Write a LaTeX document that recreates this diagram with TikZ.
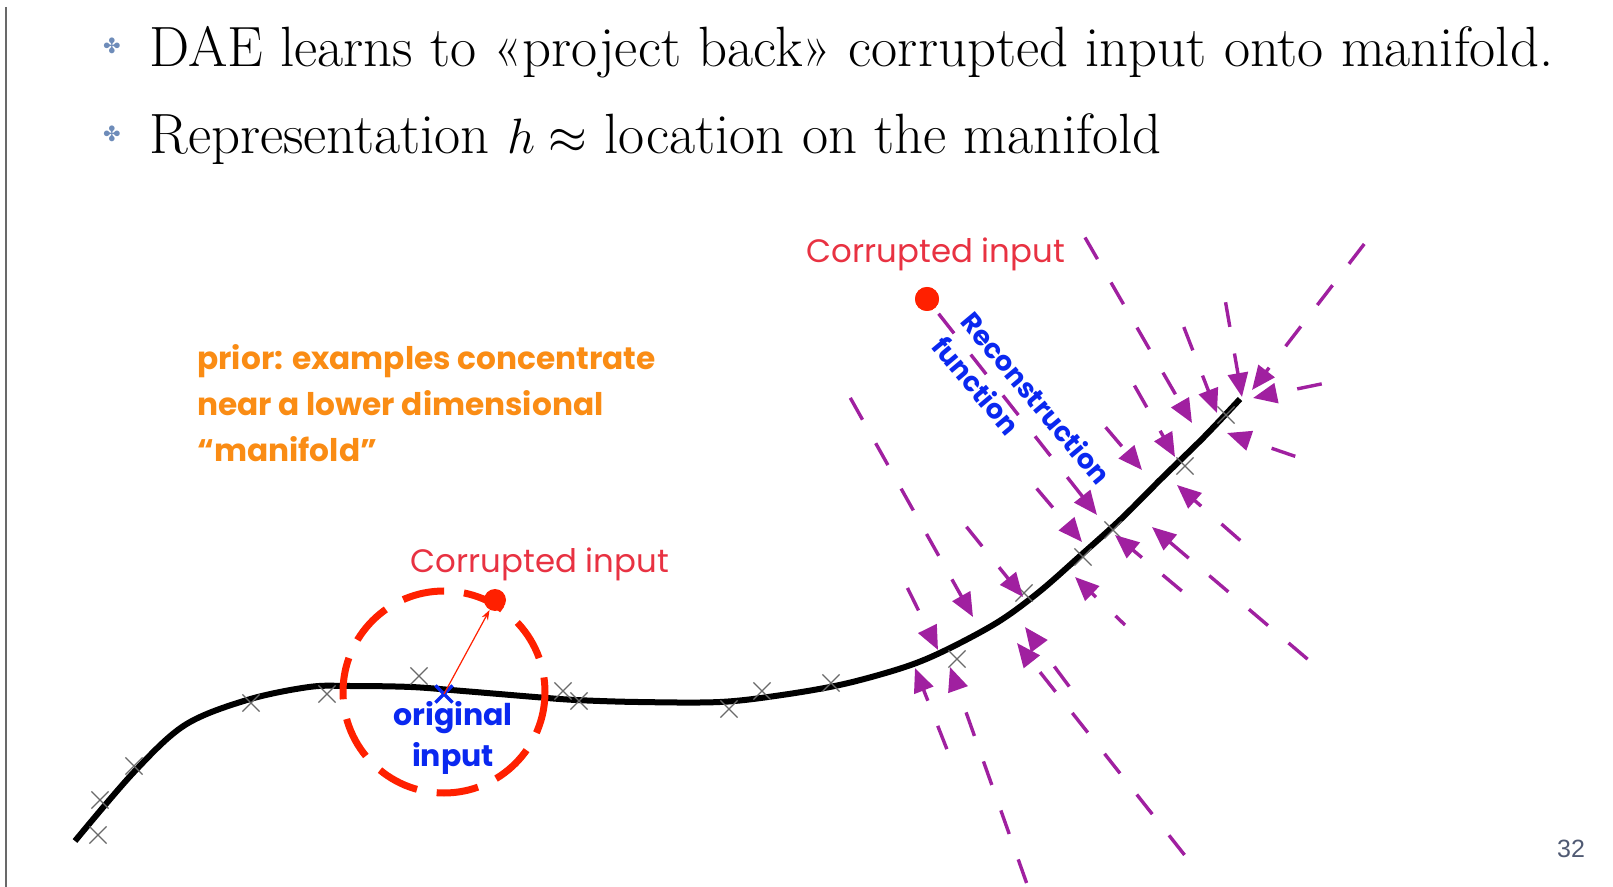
\documentclass[tikz,border=0pt]{standalone}
\usepackage{fontspec}
\usepackage{tikz}
\usetikzlibrary{arrows.meta,positioning,shapes.misc}
\newfontfamily\gothic{Poppins}
\newfontfamily\symfont{DejaVu Sans}
\newfontfamily\pagefont{Liberation Sans}
\definecolor{fieldpurple}{RGB}{160,32,160}
\definecolor{labelred}{RGB}{232,50,66}
\definecolor{dotred}{RGB}{255,32,0}
\definecolor{labelblue}{RGB}{10,40,240}
\definecolor{priororange}{RGB}{250,140,20}
\definecolor{crossgray}{RGB}{105,105,105}
\definecolor{bulletblue}{RGB}{110,140,185}
\definecolor{pagegray}{RGB}{80,90,115}

\begin{document}
\begin{tikzpicture}[x=0.5pt, y=-0.5pt,
  title/.style={anchor=base west, inner sep=0pt, font=\fontsize{28.4}{32}\selectfont},
  bul/.style={inner sep=0pt, text=bulletblue, font=\symfont\fontsize{10.5}{10.5}\selectfont},
  lbl/.style={inner sep=0pt, align=left},
  ex/.style={cross out, draw=crossgray, line width=0.6pt, minimum size=8pt, inner sep=0pt},
  dot/.style={circle, fill=dotred, inner sep=0pt, minimum size=#1},
  fld/.style={{Triangle[length=12pt, width=10pt]}-, draw=fieldpurple, line width=1.7pt, dash pattern=on 12.5pt off 13.5pt},
  manifold/.style={line width=3pt}]
  \useasboundingbox (0,0) rectangle (1613,887);
  \draw[crossgray, line width=1pt] (6,7) -- (6,887);
  \node[title] (t1) at (149,67) {DAE learns to «project back» corrupted input onto manifold.};
  \node[title] (t2) at (149,154) {Representation $h\approx$ location on the manifold};
  \node[bul] (b1) at (112,46) {✤};
  \node[bul] (b2) at (112,134) {✤};
  \node[lbl, anchor=west, text=priororange, font=\gothic\bfseries\fontsize{15.6}{23}\selectfont] (prior) at (197,403) {prior: examples concentrate\\near a lower dimensional\\“manifold”};
  \draw[manifold] plot[smooth, tension=0.55] coordinates {(75,841) (134,772) (185,725) (247,700) (309,687) (350,686) (411,687) (463,691) (535,697) (576,700) (638,702) (720,702) (782,695) (844,684) (905,667) (946,650) (998,622) (1039,592) (1080,556) (1121,519) (1162,478) (1204,437) (1240,399)};
  \foreach \n/\x/\y in {1/98/835, 2/100/800, 3/134/766, 4/251/703, 5/327/694, 6/419/676, 7/563/691, 8/579/701, 9/729/709, 10/762/691, 11/831/683, 12/957/659, 13/1024/593, 14/1083/557, 15/1113/530, 16/1185/466, 17/1226/415}
    \node[ex] (x\n) at (\x,\y) {};
  \draw[dotred, line width=3.5pt, dash pattern=on 21pt off 10pt] (444,692) circle[radius=101];
  \node[cross out, draw=labelblue, line width=1.6pt, minimum size=7pt, inner sep=0pt] (orig) at (444,694) {};
  \node[dot=11pt] (dotB) at (495,600) {};
  \draw[-{Stealth[length=5pt, width=3.5pt]}, dotred, line width=0.6pt] (orig.center) -- (dotB);
  \node[lbl, text=labelred, font=\gothic\fontsize{16.2}{18}\selectfont] (corrB) at (540,564) {Corrupted input};
  \node[lbl, align=center, text=labelblue, font=\gothic\bfseries\fontsize{15}{20.5}\selectfont] (origl) at (453,738) {original\\input};
  \node[lbl, text=labelred, font=\gothic\fontsize{16.2}{18}\selectfont] (corrA) at (936,254) {Corrupted input};
  \foreach \n/\sx/\sy/\tx/\ty/\ph in {1/847/392/973/617/2.5, 2/906/585/938/650/15.5, 3/965/525/1023/597/5, 4/1032/483/1082/542/15,
      6/1102/423/1142/470/22, 7/1133/383/1175/457/9, 8/1083/234/1192/423/21, 9/1183/325/1217/413/4, 10/1225/299/1242/397/2,
      11/1365/243/1252/390/10, 12/1326/383/1253/398/15, 13/1300/458/1227/433/14, 14/1242/542/1177/485/8, 15/1318/668/1152/527/0,
      16/1183/592/1115/535/6.5, 17/1125/625/1075/577/9.5, 18/1198/872/1017/643/19, 19/1074/693/1025/627/13, 20/948/752/915/668/6.5,
      21/1028/887/950/667/13.5} {
    \coordinate (s\n) at (\sx,\sy);
    \coordinate (t\n) at (\tx,\ty);
    \draw[fld, dash phase=\ph pt] (t\n) -- (s\n);
  }
  \coordinate (t5) at (1097,515);
  \node[dot=12pt] (dotA) at (927,299) {};
  \draw[fld] (t5) -- (dotA.center);
  \node[dot=12pt] at (dotA) {};
  \node[lbl, rotate=-50, text=labelblue, font=\gothic\bfseries\fontsize{13.6}{19}\selectfont] (recon) at (1022,410) {Reconstruction\\function};
  \node[inner sep=0pt, text=pagegray, font=\pagefont\fontsize{12.5}{14}\selectfont] (page) at (1571,849) {32};
\end{tikzpicture}
\end{document}
